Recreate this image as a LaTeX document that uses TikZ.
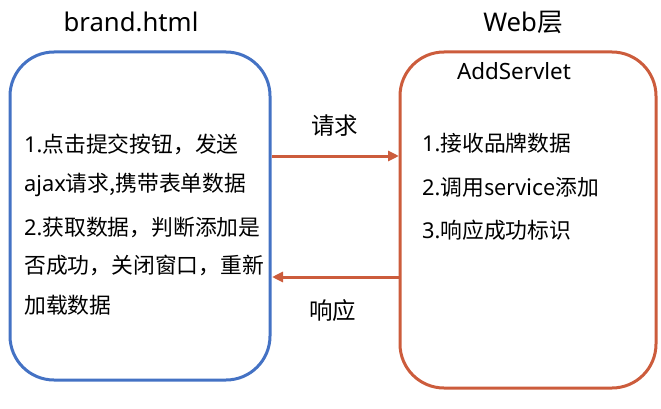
\documentclass[tikz,border=0pt]{standalone}
\usepackage{fontspec}
\setmainfont{Noto Sans}
\newfontfamily\cjk{Noto Sans CJK SC}
\usetikzlibrary{arrows.meta}
\definecolor{boxblue}{RGB}{68,114,196}
\definecolor{boxred}{RGB}{204,92,60}
\begin{document}
\begin{tikzpicture}[x=1pt,y=-1pt,
  panel/.style={draw, line width=3pt, rounded corners=44pt},
  title/.style={font=\fontsize{25.7}{30}\selectfont, anchor=base},
  body/.style={font=\fontsize{21.8}{26}\selectfont, anchor=base west, inner sep=0pt},
  flow/.style={draw=boxred, line width=3pt, -{Triangle[length=11pt,width=10pt]}},
  flowlabel/.style={font=\fontsize{23.5}{27}\selectfont, anchor=base}]
\useasboundingbox (0,0) rectangle (661,409);
\draw[panel, boxblue] (10,52) rectangle (270,380);
\draw[panel, boxred] (400,52) rectangle (656,388);
\node[title] (t1) at (131,32) {brand.html};
\node[title] (t2) at (523,32) {Web\cjk{层}};
\node[title, font=\fontsize{22.4}{26}\selectfont] (t3) at (514,80) {AddServlet};
\node[body] (l1) at (24,153) {1.\cjk{点击提交按钮，发送}};
\node[body] (l2) at (24,191) {ajax\cjk{请求,携带表单数据}};
\node[body] (l3) at (24,235) {2.\cjk{获取数据，判断添加是}};
\node[body] (l4) at (24,273) {\cjk{否成功，关闭窗口，重新}};
\node[body] (l5) at (24,313) {\cjk{加载数据}};
\node[body] (r1) at (422,151) {1.\cjk{接收品牌数据}};
\node[body] (r2) at (422,195) {2.\cjk{调用}service\cjk{添加}};
\node[body] (r3) at (422,238) {3.\cjk{响应成功标识}};
\coordinate (a1s) at (272,156);
\coordinate (a1e) at (399,156);
\coordinate (a2s) at (399,277);
\coordinate (a2e) at (272,277);
\draw[flow] (a1s) -- (a1e);
\draw[flow] (a2s) -- (a2e);
\node[flowlabel] (q) at (334.5,135) {\cjk{请求}};
\node[flowlabel] (p) at (332.5,319) {\cjk{响应}};
\end{tikzpicture}
\end{document}
